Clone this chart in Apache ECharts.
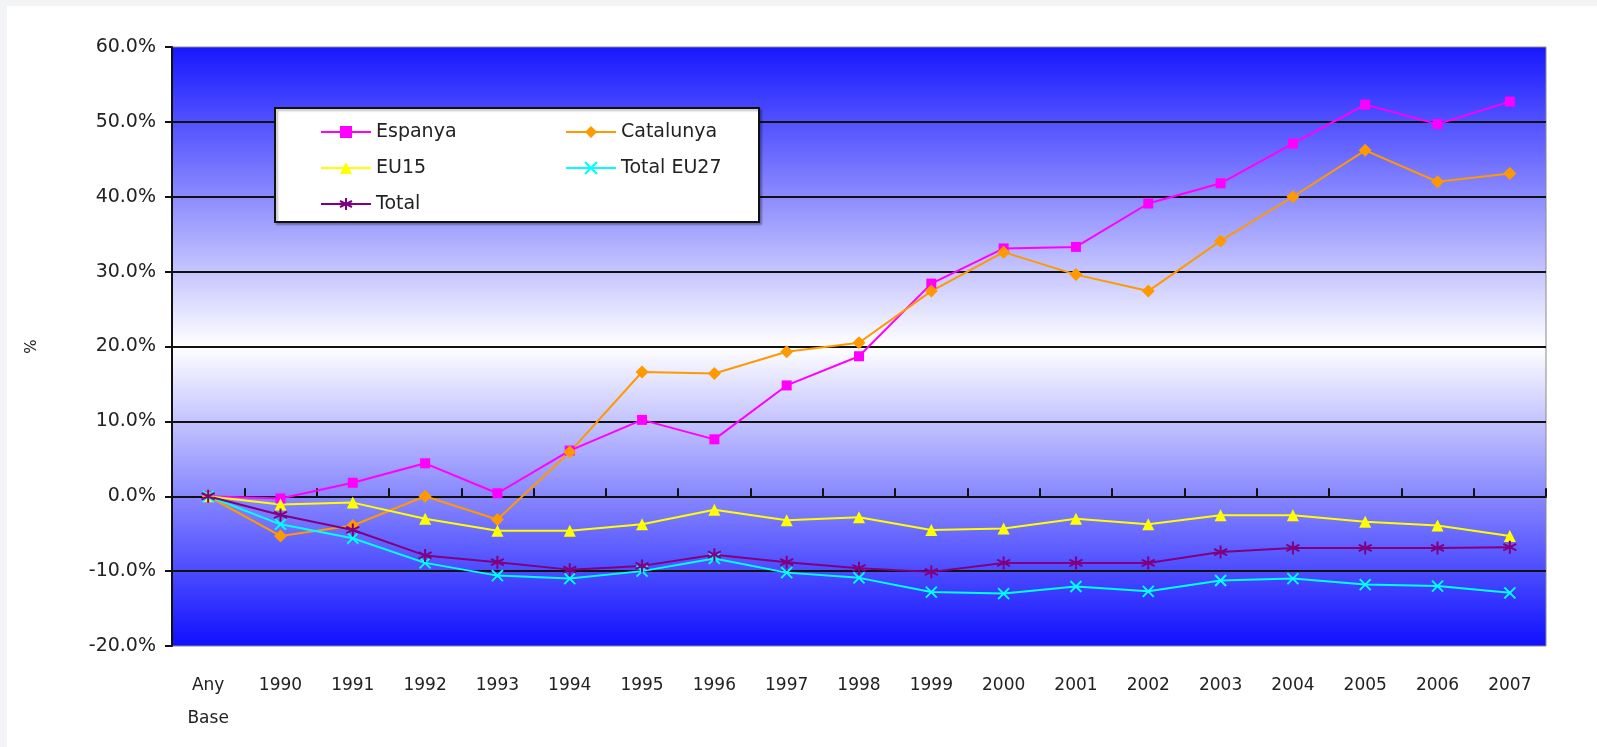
<!DOCTYPE html>
<html>
<head>
<meta charset="utf-8">
<script src="https://cdn.jsdelivr.net/npm/echarts@6.0.0/dist/echarts.min.js"></script>
<style>
  html, body { margin: 0; padding: 0; background: #fff; }
  #chart { width: 1597px; height: 747px; }
</style>
</head>
<body>
<div id="chart"></div>
<script>
// categories and series (percent change vs base year)
var categories = ['Any Base', '1990', '1991', '1992', '1993', '1994', '1995', '1996', '1997', '1998',
  '1999', '2000', '2001', '2002', '2003', '2004', '2005', '2006', '2007'];
var espanya = [0, -0.3, 1.8, 4.4, 0.4, 6.1, 10.2, 7.6, 14.8, 18.7, 28.4, 33.1, 33.3, 39.1, 41.8, 47.1, 52.3, 49.7, 52.7];
var catalunya = [0, -5.3, -3.9, 0, -3.1, 5.9, 16.6, 16.4, 19.3, 20.5, 27.4, 32.6, 29.6, 27.4, 34.1, 40.0, 46.2, 42.0, 43.1];
var eu15 = [0, -1.1, -0.85, -3.0, -4.6, -4.6, -3.75, -1.8, -3.2, -2.8, -4.5, -4.3, -3.0, -3.75, -2.55, -2.55, -3.4, -3.9, -5.3];
var eu27 = [0, -3.75, -5.6, -8.9, -10.6, -11.0, -10.0, -8.3, -10.2, -10.9, -12.8, -13.0, -12.05, -12.7, -11.25, -11.0, -11.8, -12.0, -12.9];
var total = [0, -2.5, -4.5, -7.9, -8.8, -9.8, -9.3, -7.8, -8.8, -9.6, -10.1, -8.9, -8.9, -8.9, -7.45, -6.9, -6.9, -6.9, -6.8];

var font = 'DejaVu Sans';
var crossPath = 'path://M0,0L10,10M10,0L0,10';
var starPath = 'path://M5,0L5,10M0.7,2.5L9.3,7.5M0.7,7.5L9.3,2.5';

var chart = echarts.init(document.getElementById('chart'));

function lineSeries(name, data, color, symbol, size, stroke) {
  var s = {
    name: name,
    type: 'line',
    xAxisIndex: 0,
    yAxisIndex: 0,
    data: data,
    symbol: symbol,
    symbolSize: size,
    lineStyle: { color: color, width: 2 },
    itemStyle: { color: color },
    z: 5
  };
  if (stroke) {
    s.itemStyle = { color: 'rgba(0,0,0,0)', borderColor: color, borderWidth: 2 };
  }
  return s;
}

var legendBase = {
  orient: 'vertical',
  top: 115,
  itemWidth: 50, itemHeight: 15, itemGap: 12,
  lineStyle: { width: 2 },
  textStyle: { fontFamily: font, fontSize: 19, color: '#222', lineHeight: 24 },
  z: 4
};

var option = {
  animation: false,
  backgroundColor: '#fff',
  grid: {
    left: 172, right: 51, top: 47, bottom: 101,
    show: true,
    borderColor: '#8a8a8a',
    borderWidth: 1,
    backgroundColor: new echarts.graphic.LinearGradient(0, 0, 0, 1, [
      { offset: 0, color: '#1717ff' },
      { offset: 0.5, color: '#ffffff' },
      { offset: 1, color: '#0f0fff' }
    ])
  },
  graphic: [
    { type: 'rect', shape: { x: 0, y: 0, width: 1597, height: 6 }, style: { fill: '#f3f4f6' }, silent: true },
    { type: 'rect', shape: { x: 0, y: 0, width: 7, height: 747 }, style: { fill: '#f3f4f6' }, silent: true },
    {
      type: 'rect', z: 3,
      shape: { x: 275, y: 108, width: 484, height: 114 },
      style: { fill: '#fff', stroke: '#111', lineWidth: 2, shadowColor: 'rgba(0,0,0,0.25)', shadowOffsetX: 2, shadowOffsetY: 2, shadowBlur: 2 }
    }
  ],
  legend: [
    Object.assign({}, legendBase, { data: ['Espanya', 'EU15', 'Total'], left: 315 }),
    Object.assign({}, legendBase, { data: ['Catalunya', 'Total EU27'], left: 560 })
  ],
  xAxis: [
    {
      type: 'category',
      data: categories,
      position: 'bottom',
      axisLine: { show: false, onZero: false },
      axisTick: { show: false },
      axisLabel: {
        interval: 0,
        margin: 23,
        fontFamily: font,
        fontSize: 17,
        color: '#222',
        lineHeight: 33,
        formatter: function (v) { return v.replace(' ', '\n'); }
      },
      splitLine: { show: false }
    },
    {
      // zero line with ticks pointing down
      type: 'category',
      data: categories,
      axisLine: { show: true, onZero: true, onZeroAxisIndex: 0, lineStyle: { color: '#111', width: 2 } },
      axisTick: { show: true, interval: 0, length: 8, lineStyle: { color: '#111', width: 2 } },
      axisLabel: { show: false },
      splitLine: { show: false }
    },
    {
      // same zero line, ticks pointing up
      type: 'category',
      data: categories,
      position: 'bottom',
      axisLine: { show: false, onZero: true, onZeroAxisIndex: 1 },
      axisTick: { show: true, inside: true, interval: 0, length: 8, lineStyle: { color: '#111', width: 2 } },
      axisLabel: { show: false },
      splitLine: { show: false }
    }
  ],
  yAxis: [
    {
      type: 'value',
      min: -20, max: 60, interval: 10,
      name: '%',
      nameLocation: 'middle',
      nameGap: 132,
      nameRotate: 90,
      nameTextStyle: { fontFamily: font, fontSize: 15, color: '#222' },
      axisLine: { show: true, lineStyle: { color: '#111', width: 2 } },
      axisTick: { show: true, length: 7, lineStyle: { color: '#111', width: 2 } },
      axisLabel: {
        margin: 16,
        fontFamily: font,
        fontSize: 19,
        color: '#222',
        formatter: function (v) { return v.toFixed(1) + '%'; }
      },
      splitLine: { show: true, showMinLine: false, showMaxLine: false, lineStyle: { color: '#111', width: 2 } }
    },
    {
      type: 'value',
      min: -20, max: 60, interval: 10,
      position: 'left',
      axisLine: { show: false },
      axisTick: { show: false },
      axisLabel: { show: false },
      splitLine: { show: false }
    }
  ],
  series: [
    lineSeries('Espanya', espanya, '#ff00ff', 'rect', 10),
    lineSeries('Catalunya', catalunya, '#ff9900', 'diamond', 13),
    lineSeries('EU15', eu15, '#ffff00', 'triangle', 12),
    lineSeries('Total EU27', eu27, '#00ffff', crossPath, 11, true),
    lineSeries('Total', total, '#800080', starPath, 13, true)
  ]
};

chart.setOption(option);
</script>
</body>
</html>
